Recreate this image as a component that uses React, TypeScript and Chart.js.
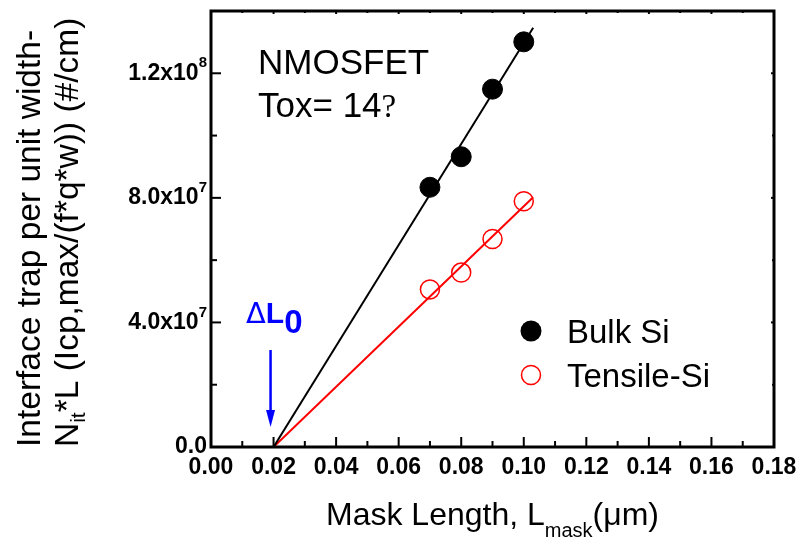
import { useEffect, useRef } from "react";
import { Chart, registerables } from "chart.js";

Chart.register(...registerables);

// Measured mask lengths (µm) and the extracted N_it*L values (#/cm)
const maskLength = [0.07, 0.08, 0.09, 0.1];
const bulkSi = [8.34e7, 9.32e7, 1.149e8, 1.301e8];
const tensileSi = [5.06e7, 5.6e7, 6.68e7, 7.89e7];

// Linear fits, both extrapolating to ΔL0 = 0.02 µm
const fitX = [0.02, 0.103];
const bulkFit = [0, 1.346e8];
const tensileFit = [0, 8.02e7];

// Axis ticks
const xMajorTicks = [0, 0.02, 0.04, 0.06, 0.08, 0.1, 0.12, 0.14, 0.16, 0.18];
const xTickLabels = ["0.00", "0.02", "0.04", "0.06", "0.08", "0.10", "0.12", "0.14", "0.16", "0.18"];
const xMinorTicks = [0.01, 0.03, 0.05, 0.07, 0.09, 0.11, 0.13, 0.15, 0.17];
const yMajorTicks = [0, 4e7, 8e7, 1.2e8];
const yTickMantissa = ["0.0", "4.0x10", "8.0x10", "1.2x10"];
const yTickExponent = ["", "7", "7", "8"];
const yMinorTicks = [2e7, 6e7, 1e8];

const SANS = "Arial, 'Liberation Sans', Helvetica, sans-serif";
const RED = "#ff0000";
const BLUE = "#0000ff";

type Seg = { t: string; font: string; dy?: number };

function drawRich(ctx: CanvasRenderingContext2D, segs: Seg[], x: number, y: number, align: "left" | "center" | "right" = "left") {
  let total = 0;
  for (const s of segs) {
    ctx.font = s.font;
    total += ctx.measureText(s.t).width;
  }
  let cx = align === "left" ? x : align === "center" ? x - total / 2 : x - total;
  ctx.textAlign = "left";
  for (const s of segs) {
    ctx.font = s.font;
    ctx.fillText(s.t, cx, y + (s.dy || 0));
    cx += ctx.measureText(s.t).width;
  }
}

const decorations = {
  id: "decorations",
  afterDraw(chart: Chart) {
    const ctx = chart.ctx;
    const { left, right, top, bottom } = chart.chartArea;
    const xs = chart.scales.x;
    const ys = chart.scales.y;
    ctx.save();

    // frame
    ctx.strokeStyle = "#000";
    ctx.lineWidth = 3;
    ctx.strokeRect(left, top, right - left, bottom - top);

    // inward ticks
    ctx.lineWidth = 2;
    const tick = (x1: number, y1: number, x2: number, y2: number) => {
      ctx.beginPath();
      ctx.moveTo(x1, y1);
      ctx.lineTo(x2, y2);
      ctx.stroke();
    };
    xMajorTicks.forEach((v) => {
      const px = xs.getPixelForValue(v);
      tick(px, bottom, px, bottom - 10);
      tick(px, top, px, top + 3);
    });
    xMinorTicks.forEach((v) => {
      const px = xs.getPixelForValue(v);
      tick(px, bottom, px, bottom - 6);
      tick(px, top, px, top + 2);
    });
    yMajorTicks.forEach((v) => {
      const py = ys.getPixelForValue(v);
      tick(left, py, left + 10, py);
      tick(right, py, right - 3, py);
    });
    yMinorTicks.forEach((v) => {
      const py = ys.getPixelForValue(v);
      tick(left, py, left + 6, py);
      tick(right, py, right - 2, py);
    });

    // tick labels
    ctx.fillStyle = "#000";
    ctx.textBaseline = "middle";
    const tickFont = `bold 23px ${SANS}`;
    xMajorTicks.forEach((v, i) => {
      ctx.font = tickFont;
      ctx.textAlign = "center";
      ctx.fillText(xTickLabels[i], xs.getPixelForValue(v), bottom + 21);
    });
    yMajorTicks.forEach((v, i) => {
      const py = ys.getPixelForValue(v);
      const segs: Seg[] = [{ t: yTickMantissa[i], font: tickFont }];
      if (yTickExponent[i]) segs.push({ t: yTickExponent[i], font: `bold 15px ${SANS}`, dy: -10 });
      drawRich(ctx, segs, left - 4, py, "right");
    });

    // x axis title
    ctx.textBaseline = "alphabetic";
    drawRich(
      ctx,
      [
        { t: "Mask Length, L", font: `32px ${SANS}` },
        { t: "mask", font: `20px ${SANS}`, dy: 12 },
        { t: "(μm)", font: `32px ${SANS}` },
      ],
      (left + right) / 2,
      525,
      "center"
    );

    // y axis title (two lines, rotated)
    ctx.save();
    ctx.rotate(-Math.PI / 2);
    ctx.textBaseline = "middle";
    drawRich(ctx, [{ t: "Interface trap per unit width-", font: `33.5px ${SANS}` }], -447, 31, "left");
    drawRich(
      ctx,
      [
        { t: "N", font: `33.5px ${SANS}` },
        { t: "it", font: `21px ${SANS}`, dy: 10 },
        { t: "*L (Icp,max/(f*q*w)) (#/cm)", font: `33.5px ${SANS}` },
      ],
      -447,
      69,
      "left"
    );
    ctx.restore();

    // device annotation
    ctx.textBaseline = "alphabetic";
    drawRich(ctx, [{ t: "NMOSFET", font: `35px ${SANS}` }], 258, 74);
    drawRich(
      ctx,
      [
        { t: "Tox= 14", font: `35px ${SANS}` },
        { t: "?", font: `33px 'Liberation Serif', 'Times New Roman', serif` },
      ],
      258,
      117
    );

    // ΔL0 marker
    ctx.fillStyle = BLUE;
    drawRich(
      ctx,
      [
        { t: "Δ", font: `29px 'DejaVu Sans', ${SANS}` },
        { t: "L", font: `bold 30px ${SANS}` },
        { t: "0", font: `bold 33px ${SANS}`, dy: 10 },
      ],
      246,
      323
    );
    const ax = xs.getPixelForValue(0.02) - 3;
    ctx.strokeStyle = BLUE;
    ctx.lineWidth = 2.5;
    tick(ax, 350, ax, 412);
    ctx.beginPath();
    ctx.moveTo(ax - 4.5, 410);
    ctx.lineTo(ax + 4.5, 410);
    ctx.lineTo(ax, 427);
    ctx.closePath();
    ctx.fill();

    // legend
    ctx.fillStyle = "#000";
    ctx.beginPath();
    ctx.arc(531, 331, 10.5, 0, Math.PI * 2);
    ctx.fill();
    ctx.strokeStyle = RED;
    ctx.lineWidth = 1.5;
    ctx.beginPath();
    ctx.arc(531, 375, 9.5, 0, Math.PI * 2);
    ctx.stroke();
    ctx.fillStyle = "#000";
    ctx.textBaseline = "alphabetic";
    drawRich(ctx, [{ t: "Bulk Si", font: `33px ${SANS}` }], 567, 343);
    drawRich(ctx, [{ t: "Tensile-Si", font: `33px ${SANS}` }], 567, 387);

    ctx.restore();
  },
};

export default function App() {
  const canvasRef = useRef<HTMLCanvasElement | null>(null);

  useEffect(() => {
    document.body.style.margin = "0";
    const canvas = canvasRef.current;
    if (!canvas) return;
    const toPts = (xv: number[], yv: number[]) => xv.map((x, i) => ({ x, y: yv[i] }));
    const chart = new Chart(canvas, {
      type: "scatter",
      data: {
        datasets: [
          {
            label: "Bulk Si fit",
            data: toPts(fitX, bulkFit),
            showLine: true,
            borderColor: "#000",
            borderWidth: 2,
            pointRadius: 0,
          },
          {
            label: "Tensile-Si fit",
            data: toPts(fitX, tensileFit),
            showLine: true,
            borderColor: RED,
            borderWidth: 2,
            pointRadius: 0,
          },
          {
            label: "Bulk Si",
            data: toPts(maskLength, bulkSi),
            showLine: false,
            pointStyle: "circle",
            pointRadius: 10,
            pointBackgroundColor: "#000",
            pointBorderColor: "#000",
            pointBorderWidth: 1,
          },
          {
            label: "Tensile-Si",
            data: toPts(maskLength, tensileSi),
            showLine: false,
            pointStyle: "circle",
            pointRadius: 9.5,
            pointBackgroundColor: "rgba(0,0,0,0)",
            pointBorderColor: RED,
            pointBorderWidth: 1.5,
          },
        ],
      },
      options: {
        responsive: false,
        animation: false,
        events: [],
        layout: { padding: { left: 211, right: 27, top: 7, bottom: 94 } },
        plugins: { legend: { display: false }, tooltip: { enabled: false } },
        scales: {
          x: { type: "linear", min: 0, max: 0.18, display: false },
          y: { type: "linear", min: 0, max: 1.4e8, display: false },
        },
      },
      plugins: [decorations],
    });
    return () => chart.destroy();
  }, []);

  return (
    <div style={{ position: "absolute", left: 0, top: 0, width: 801, height: 541, background: "#fff" }}>
      <canvas ref={canvasRef} width={801} height={541} style={{ display: "block" }} />
    </div>
  );
}
